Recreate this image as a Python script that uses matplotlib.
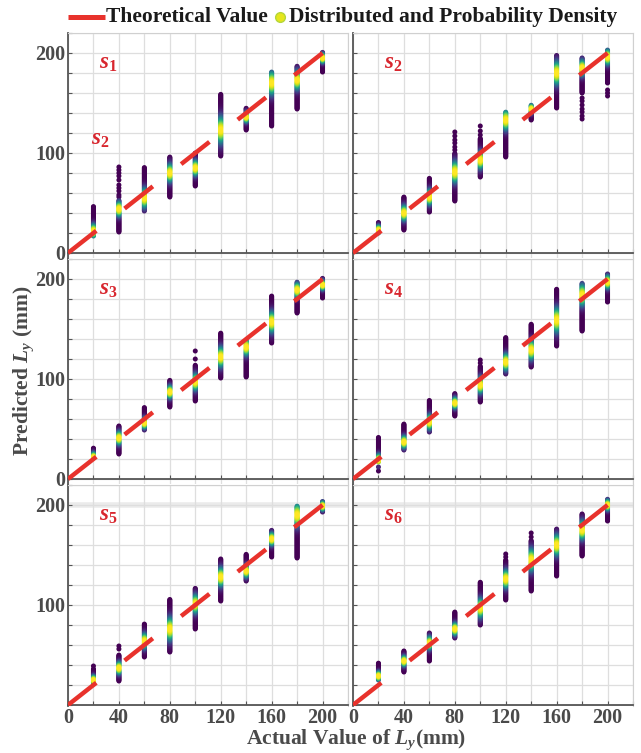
import numpy as np
import matplotlib
matplotlib.use("Agg")
import matplotlib.pyplot as plt
from matplotlib.lines import Line2D

plt.rcParams['font.family'] = ['Liberation Serif', 'DejaVu Serif']
plt.rcParams['font.weight'] = 'bold'
plt.rcParams['mathtext.fontset'] = 'custom'
plt.rcParams['mathtext.it'] = 'Liberation Serif:italic:bold'
plt.rcParams['mathtext.rm'] = 'Liberation Serif:bold'

# ---------------- data ----------------
actual = [20, 40, 60, 80, 100, 120, 140, 160, 180, 200]
panel_names = [r'$\mathit{s}_{\mathit{1}}$', r'$\mathit{s}_{\mathit{2}}$', r'$\mathit{s}_{\mathit{3}}$',
               r'$\mathit{s}_{\mathit{4}}$', r'$\mathit{s}_{\mathit{5}}$', r'$\mathit{s}_{\mathit{6}}$']

# continuous core of each predicted-value strip (low, high) and density peak
s1_lo = [17, 21, 42, 56, 67, 97, 123, 127, 144, 181]
s1_hi = [47, 53, 86, 96, 100, 159, 145, 181, 187, 201]
s1_pk = [22, 44, 55, 80, 85, 123, 136, 170, 173, 195]
s1_out = {40: [56, 58, 62, 65, 68, 73, 77, 80, 83, 86]}

s2_lo = [20, 23, 41, 52, 76, 96, 133, 145, 160, 170]
s2_hi = [31, 56, 75, 100, 115, 141, 148, 198, 195, 203]
s2_pk = [23, 40, 56, 81, 93, 133, 144, 180, 185, 196]
s2_out = {80: [103, 106, 110, 113, 117, 121], 100: [118, 122, 127],
          180: [134, 137, 141, 144, 148, 152, 155], 200: [157, 160, 163]}

s3_lo = [21, 25, 49, 72, 78, 101, 102, 136, 166, 181]
s3_hi = [31, 53, 72, 99, 114, 146, 139, 183, 197, 201]
s3_pk = [22, 41, 56, 87, 97, 122, 132, 157, 189, 194]
s3_out = {100: [120, 128]}

s4_lo = [17, 29, 47, 63, 77, 105, 112, 133, 148, 177]
s4_hi = [42, 55, 79, 86, 113, 142, 155, 190, 196, 205]
s4_pk = [19, 37, 57, 76, 94, 117, 129, 159, 184, 197]
s4_out = {20: [8, 12], 100: [116, 119]}

s5_lo = [22, 24, 48, 53, 76, 104, 124, 148, 147, 193]
s5_hi = [36, 50, 81, 106, 117, 146, 151, 175, 199, 204]
s5_pk = [25, 37, 64, 76, 101, 128, 134, 166, 190, 199]
s5_out = {20: [39], 40: [56, 59]}

s6_lo = [25, 33, 44, 67, 80, 105, 114, 129, 149, 184]
s6_hi = [42, 54, 72, 93, 123, 145, 165, 176, 191, 206]
s6_pk = [29, 44, 62, 76, 97, 126, 145, 160, 175, 200]
s6_out = {120: [148, 151], 140: [168, 172]}

panels = [(s1_lo, s1_hi, s1_pk, s1_out), (s2_lo, s2_hi, s2_pk, s2_out),
          (s3_lo, s3_hi, s3_pk, s3_out), (s4_lo, s4_hi, s4_pk, s4_out),
          (s5_lo, s5_hi, s5_pk, s5_out), (s6_lo, s6_hi, s6_pk, s6_out)]

theory_range = [0, 200]
xtick_vals = [0, 20, 40, 60, 80, 100, 120, 140, 160, 180, 200, 220]
xtick_labels = ['0', '', '40', '', '80', '', '120', '', '160', '', '200', '']
ytick_vals = [0, 20, 40, 60, 80, 100, 120, 140, 160, 180, 200, 220]
ytick_labels = ['0', '', '', '', '', '100', '', '', '', '', '200', '']
ytick_labels_bottom = ['', '', '', '', '', '100', '', '', '', '', '200', '']
legend_labels = ['Theoretical Value', 'Distributed and Probability Density']

# ---------------- figure ----------------
W, H = 641, 753
fig = plt.figure(figsize=(W / 100, H / 100), dpi=100)

col_x = [68 / W, 353 / W]
col_w = 280 / W
rows = [(33, 258), (259, 484), (485, 706)]

RED = '#e8322c'
LABEL_RED = '#d8262e'
GRID = '#dedede'
TXT = '#4a4a4a'
cmap = plt.get_cmap('viridis')

for i, (lo, hi, pk, outl) in enumerate(panels):
    r, c = divmod(i, 2)
    top, bot = rows[r]
    ax = fig.add_axes([col_x[c], 1 - bot / H, col_w, (bot - top) / H])
    ax.set_xlim(0, 220)
    if r < 2:
        ax.set_ylim(-5, 220)
    else:
        ax.set_ylim(-1, 220)
        ax.axhline(200, color='#ebebeb', lw=4, zorder=0)

    # strips: points coloured by their relative density
    for xv, l, h, p in zip(actual, lo, hi, pk):
        ys = np.arange(l, h + 0.01, 0.7)
        ys = np.concatenate([ys, np.array(outl.get(xv, []), dtype=float)])
        sig = max((h - l) / 7.5, 2.5)
        dens = np.exp(-0.5 * ((ys - p) / sig) ** 2)
        order = np.argsort(dens)
        ax.scatter(np.full(len(ys), xv)[order], ys[order], c=dens[order], cmap=cmap,
                   vmin=0, vmax=1, s=13, linewidths=0, zorder=3)

    # theoretical y = x line, drawn as alternating pieces
    n_pieces = 9
    edges = np.linspace(theory_range[0], theory_range[1], n_pieces + 1)
    for k in range(0, n_pieces, 2):
        seg = [edges[k], edges[k + 1]]
        ax.plot(seg, seg, color=RED, lw=3.2, solid_capstyle='butt', zorder=4)

    ax.text(24, 190, panel_names[i], color=LABEL_RED, fontsize=16.5,
            ha='left', va='center', zorder=5)
    if i == 0:
        ax.text(18, 114, panel_names[1], color=LABEL_RED, fontsize=16.5,
                ha='left', va='center', zorder=5)

    ax.set_xticks(xtick_vals)
    ax.set_yticks(ytick_vals)
    ax.grid(True, color=GRID, lw=0.9, zorder=0)
    ax.set_axisbelow(True)
    ax.tick_params(direction='in', length=3, color='#555555', labelcolor=TXT,
                   labelsize=14.5, pad=2)
    if r == 2:
        ax.set_xticklabels(xtick_labels)
    else:
        ax.set_xticklabels([''] * len(xtick_vals))
    if c == 0:
        ax.set_yticklabels(ytick_labels if r < 2 else ytick_labels_bottom)
    else:
        ax.set_yticklabels([''] * len(ytick_vals))
    for lab in ax.get_xticklabels() + ax.get_yticklabels():
        lab.set_fontweight('bold')

    ax.spines['bottom'].set_position(('data', 0))
    ax.spines['left'].set_color('#555555')
    ax.spines['bottom'].set_color('#555555')
    ax.spines['left'].set_linewidth(1.3)
    ax.spines['bottom'].set_linewidth(1.3)
    ax.spines['top'].set_color('#d0d0d0')
    ax.spines['right'].set_color('#d0d0d0')
    ax.spines['top'].set_linewidth(0.8)
    ax.spines['right'].set_linewidth(0.8)

fig.text(0.555, 0.017, r'Actual Value of $L_y$(mm)', ha='center', va='center',
         fontsize=15.5, color=TXT, fontweight='bold')
fig.text(0.037, 0.508, r'Predicted $L_y$ (mm)', ha='center', va='center', rotation=90,
         fontsize=15.5, color=TXT, fontweight='bold')

# legend drawn manually at the top
ly = 1 - 17 / H
fig.add_artist(Line2D([68 / W, 105 / W], [ly, ly], transform=fig.transFigure,
                      color=RED, lw=3.6, solid_capstyle='butt'))
fig.text(106 / W, ly, legend_labels[0], ha='left', va='center', fontsize=15.5,
         color='#1a1a1a', fontweight='bold')
fig.add_artist(Line2D([280 / W], [ly], transform=fig.transFigure, marker='o',
                      color='none', markerfacecolor='#e6e61c',
                      markeredgecolor='#b5d63a', markersize=7))
fig.text(289 / W, ly, legend_labels[1], ha='left', va='center', fontsize=15.5,
         color='#1a1a1a', fontweight='bold')

fig.savefig('out.png', dpi=100)
